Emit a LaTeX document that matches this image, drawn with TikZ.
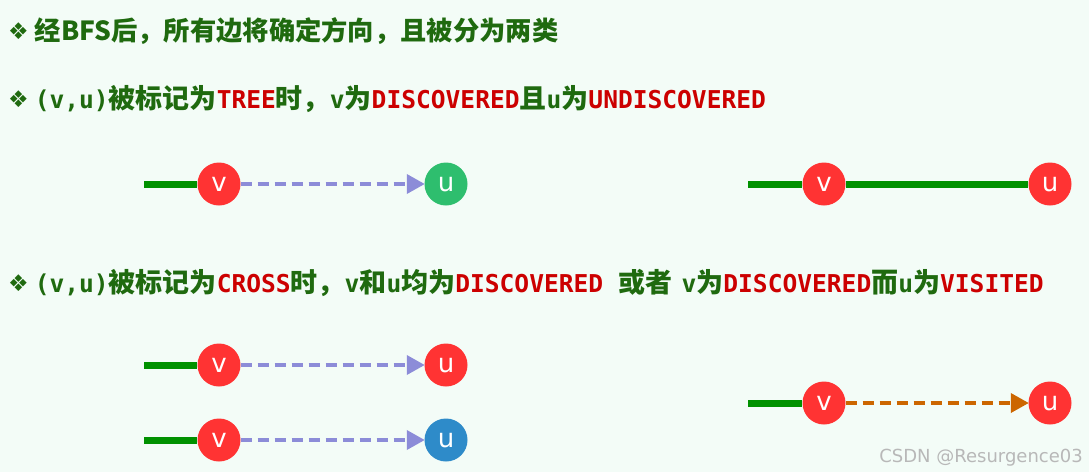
\documentclass[tikz,border=0pt]{standalone}
\usepackage{fontspec}
\usetikzlibrary{arrows.meta}
\newfontfamily\cjk{Noto Sans CJK SC}
\newfontfamily\monob{DejaVu Sans Mono}[Scale=0.91]
\newfontfamily\symb{DejaVu Sans}
\setsansfont{DejaVu Sans}
\definecolor{bgmint}{HTML}{F3FCF7}
\definecolor{txtgreen}{HTML}{1F6A0F}
\definecolor{txtred}{HTML}{CC0000}
\definecolor{nodered}{HTML}{FF3333}
\definecolor{nodegreen}{HTML}{2EBE6E}
\definecolor{nodeblue}{HTML}{2E8BC9}
\definecolor{edgegreen}{HTML}{009100}
\definecolor{edgeblue}{HTML}{8C8CD8}
\definecolor{edgeorange}{HTML}{CC6600}
\newcommand{\bul}{{\symb\fontsize{23pt}{23pt}\selectfont\raisebox{1pt}{❖}}\hspace{6pt}}
\newcommand{\gm}[1]{{\monob\bfseries #1}}
\newcommand{\rd}[1]{{\monob\bfseries\color{txtred}#1}}
\tikzset{
  vert/.style={circle, minimum size=43pt, inner sep=0pt, fill=#1, text=white,
    font=\sffamily\fontsize{26pt}{26pt}\selectfont},
  line/.style={anchor=base west, inner sep=0pt, text=txtgreen,
    font=\cjk\bfseries\fontsize{27pt}{27pt}\selectfont},
  treeedge/.style={edgegreen, line width=7pt},
  probe/.style={#1, line width=3.6pt, dash pattern=on 11pt off 6pt,
    -{Triangle[length=18pt,width=19pt]}, shorten >=-0.5pt},
}
\begin{document}
\begin{tikzpicture}[x=1pt, y=-1pt]
\useasboundingbox[fill=bgmint] (0,0) rectangle (1089,472);
% headings
\node[line, font=\cjk\bfseries\fontsize{26.3pt}{26.3pt}\selectfont] (l1) at (8,40) {\bul 经BFS后，所有边将确定方向，且被分为两类};
\node[line] (l2) at (8,108) {\bul \gm{(v,u)}被标记为\rd{TREE}时，\gm{v}为\rd{DISCOVERED}且\gm{u}为\rd{UNDISCOVERED}};
\node[line] (l3) at (8,292) {\bul \gm{(v,u)}被标记为\rd{CROSS}时，\gm{v}和\gm{u}均为\rd{DISCOVERED}\hspace{9pt} 或者\hspace{3pt} \gm{v}为\rd{DISCOVERED}而\gm{u}为\rd{VISITED}};
% TREE
\node[vert=nodered] (v1) at (219,184) {v};
\node[vert=nodegreen] (u1) at (446,184) {u};
\coordinate (s1) at (144,184);
\draw[treeedge] (s1) -- (v1.west);
\draw[probe=edgeblue] (v1.east) -- (u1.west);
\node[vert=nodered] (v2) at (824,184) {v};
\node[vert=nodered] (u2) at (1050,184) {u};
\coordinate (s2) at (748,184);
\draw[treeedge] (s2) -- (v2.west);
\draw[treeedge] (v2.east) -- (u2.west);
% CROSS
\node[vert=nodered] (v3) at (219,365) {v};
\node[vert=nodered] (u3) at (446,365) {u};
\coordinate (s3) at (144,365);
\draw[treeedge] (s3) -- (v3.west);
\draw[probe=edgeblue] (v3.east) -- (u3.west);
\node[vert=nodered] (v4) at (219,440) {v};
\node[vert=nodeblue] (u4) at (446,440) {u};
\coordinate (s4) at (144,440);
\draw[treeedge] (s4) -- (v4.west);
\draw[probe=edgeblue] (v4.east) -- (u4.west);
\node[vert=nodered] (v5) at (824,403) {v};
\node[vert=nodered] (u5) at (1050,403) {u};
\coordinate (s5) at (748,403);
\draw[treeedge] (s5) -- (v5.west);
\draw[probe=edgeorange] (v5.east) -- (u5.west);
% watermark
\node[anchor=base east, inner sep=0pt, text=black!28, font=\sffamily\fontsize{18pt}{18pt}\selectfont] (wm) at (1083,462) {CSDN @Resurgence03};
\end{tikzpicture}
\end{document}
